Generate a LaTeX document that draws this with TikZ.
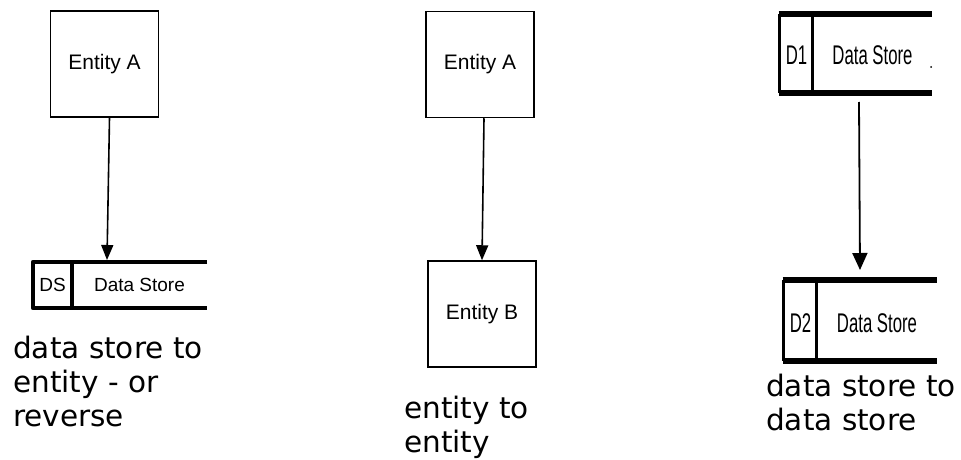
\documentclass[tikz,border=0pt]{standalone}
\usepackage{fontspec}
\setmainfont{Liberation Sans}
\newfontfamily\capfont{DejaVu Sans}
\newfontfamily\narrowfont[FakeStretch=0.62]{Liberation Sans}
\usetikzlibrary{arrows.meta}
\begin{document}
\begin{tikzpicture}[x=1pt,y=-1pt,
  entity/.style={draw,line width=1.5pt,inner sep=0pt,minimum width=108pt,minimum height=106pt,font=\fontsize{21}{24}\selectfont},
  storebox/.style={inner sep=0pt},
  thinstore/.style={line width=3.5pt,line join=round},
  thickh/.style={line width=5.5pt},
  thinv/.style={line width=2.7pt},
  dstext/.style={inner sep=0pt,font=\fontsize{19}{22}\selectfont},
  narrowtext/.style={inner sep=0pt,font=\narrowfont\fontsize{27}{30}\selectfont},
  caption/.style={anchor=base west,inner sep=0pt,align=left,font=\capfont\fontsize{29.5}{34}\selectfont},
  flow/.style={line width=1.6pt,-{Triangle[length=15pt,width=12pt]}},
  bigflow/.style={line width=1.8pt,-{Triangle[length=17pt,width=15pt]}}]
\path[use as bounding box] (0,0) rectangle (961,460);

% ---- left panel
\node[entity] (ea1) at (104.5,64) {Entity A};
\node[storebox,minimum width=174pt,minimum height=46pt] (ds) at (120,285) {};
\draw[thinstore] (ds.north east) -- (ds.north west) -- (ds.south west) -- (ds.south east);
\draw[thinstore] ([xshift=39pt]ds.north west) -- ([xshift=39pt]ds.south west);
\node[dstext] (dslab) at (52.5,285) {DS};
\node[dstext] (dsname) at (139.5,285) {Data Store};
\coordinate (dsin) at (107,260);
\draw[flow] ([xshift=5pt]ea1.south) -- (dsin);
% base anchor of a multi-line node lies on its last line
\node[caption] (cap1) at (13,426) {data store to\\entity - or\\reverse};

% ---- middle panel
\node[entity] (ea2) at (480,64.5) {Entity A};
\node[entity] (eb) at (482,314) {Entity B};
\draw[flow] ([xshift=4pt]ea2.south) -- (eb.north);
\node[caption] (cap2) at (404,452) {entity to\\entity};

% ---- right panel
\node[storebox,minimum width=152pt,minimum height=79pt] (d1) at (856,53.5) {};
\draw[thickh] ([xshift=-1.3pt]d1.north west) -- (d1.north east);
\draw[thickh] ([xshift=-1.3pt]d1.south west) -- (d1.south east);
\draw[thinv] (d1.north west) -- (d1.south west);
\draw[thinv] ([xshift=33pt]d1.north west) -- ([xshift=33pt]d1.south west);
\node[narrowtext] (d1lab) at (796.5,55) {D1};
\node[narrowtext] (d1name) at (872.5,55) {Data Store};
\fill (931,67) circle (1pt);

\node[storebox,minimum width=153pt,minimum height=81pt] (d2) at (860.5,320.5) {};
\draw[thickh] ([xshift=-1.3pt]d2.north west) -- (d2.north east);
\draw[thickh] ([xshift=-1.3pt]d2.south west) -- (d2.south east);
\draw[thinv] (d2.north west) -- (d2.south west);
\draw[thinv] ([xshift=33pt]d2.north west) -- ([xshift=33pt]d2.south west);
\node[narrowtext] (d2lab) at (800.5,323) {D2};
\node[narrowtext] (d2name) at (877,323) {Data Store};

\coordinate (d1out) at (859,102);
\coordinate (d2in) at (860,270);
\draw[bigflow] (d1out) -- (d2in);
\node[caption] (cap3) at (766,430) {data store to\\data store};
\end{tikzpicture}
\end{document}
